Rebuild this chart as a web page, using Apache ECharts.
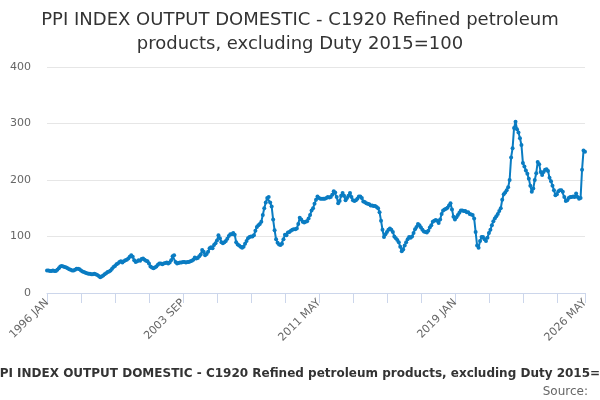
<!DOCTYPE html>
<html>
<head>
<meta charset="utf-8">
<script src="https://cdn.jsdelivr.net/npm/echarts@6/dist/echarts.min.js"></script>
<style>html,body{margin:0;padding:0;background:#fff}#c{width:600px;height:400px}</style>
</head>
<body>
<div id="c"></div>
<script>
var titleText = 'PPI INDEX OUTPUT DOMESTIC - C1920 Refined petroleum products, excluding Duty 2015=100';
var monthNames = ['JAN','FEB','MAR','APR','MAY','JUN','JUL','AUG','SEP','OCT','NOV','DEC'];
var startYear = 1996;
var yTicks = [0, 100, 200, 300, 400];

var v1996 = [40,40,39,39,40,39,39,41,44,47,48,47];
var v1997 = [46,45,44,42,41,40,40,41,43,43,42,40];
var v1998 = [38,37,36,35,34,34,33,33,34,33,32,30];
var v1999 = [28,29,31,33,35,37,38,40,43,46,48,51];
var v2000 = [52,55,56,54,56,58,59,61,64,67,64,58];
var v2001 = [55,56,58,57,60,61,59,57,56,52,47,45];
var v2002 = [44,45,47,50,52,52,51,52,53,54,52,54];
var v2003 = [58,65,67,55,52,53,54,54,55,55,54,55];
var v2004 = [55,56,57,59,63,61,62,65,68,76,73,67];
var v2005 = [69,73,79,81,79,85,88,93,102,97,90,88];
var v2006 = [90,92,96,101,104,104,106,103,90,86,84,82];
var v2007 = [80,82,87,92,97,99,100,100,102,110,117,120];
var v2008 = [122,126,138,150,160,168,170,160,153,130,111,95];
var v2009 = [89,86,85,87,95,103,102,107,108,110,112,113];
var v2010 = [113,114,122,133,130,126,125,126,127,132,138,146];
var v2011 = [150,158,165,171,168,167,167,167,167,168,170,169];
var v2012 = [170,174,180,178,170,159,163,172,177,172,164,168];
var v2013 = [172,177,170,164,163,164,167,171,171,168,162,161];
var v2014 = [159,158,157,155,155,154,154,152,150,143,128,112];
var v2015 = [99,104,108,112,114,112,108,100,97,94,90,82];
var v2016 = [74,77,84,90,95,99,98,100,106,113,117,122];
var v2017 = [120,116,112,109,108,107,110,116,120,126,128,129];
var v2018 = [128,124,130,140,146,148,149,151,155,159,148,135];
var v2019 = [130,134,138,142,146,146,145,145,143,143,140,139];
var v2020 = [138,132,108,84,80,92,99,99,95,92,98,106];
var v2021 = [112,120,127,132,136,140,145,150,165,175,178,182];
var v2022 = [187,200,240,256,292,303,290,284,274,262,230,224];
var v2023 = [217,211,202,190,179,185,200,212,232,228,214,209];
var v2024 = [214,218,219,216,204,198,190,182,173,175,180,182];
var v2025 = [182,179,170,163,164,168,170,170,171,170,176,170];
var v2026 = [167,168,218,252,250];

var yearly = [v1996,v1997,v1998,v1999,v2000,v2001,v2002,v2003,v2004,v2005,v2006,v2007,v2008,v2009,v2010,v2011,v2012,v2013,v2014,v2015,v2016,v2017,v2018,v2019,v2020,v2021,v2022,v2023,v2024,v2025,v2026];

var categories = [];
var values = [];
yearly.forEach(function (arr, yi) {
  arr.forEach(function (val, mi) {
    categories.push((startYear + yi) + ' ' + monthNames[mi]);
    values.push(val);
  });
});
var lastIdx = categories.length - 1;

var chart = echarts.init(document.getElementById('c'), null, {renderer: 'canvas'});
chart.setOption({
  animation: false,
  title: {
    text: 'PPI INDEX OUTPUT DOMESTIC - C1920 Refined petroleum\nproducts, excluding Duty 2015=100',
    left: 'center',
    top: 3,
    textStyle: {fontFamily: 'DejaVu Sans', fontSize: 18, fontWeight: 'normal', color: '#333333', lineHeight: 24}
  },
  grid: {left: 47, right: 15, top: 67, bottom: 107, containLabel: false},
  xAxis: {
    type: 'category',
    data: categories,
    boundaryGap: false,
    axisLine: {lineStyle: {color: '#ccd6eb', width: 1}},
    axisTick: {
      length: 10,
      lineStyle: {color: '#ccd6eb'},
      interval: function (i) { return i % 23 === 0 || i === lastIdx; }
    },
    axisLabel: {
      rotate: 45,
      color: '#666666',
      fontFamily: 'DejaVu Sans',
      fontSize: 11,
      margin: 8,
      interval: function (i) { return i % 92 === 0 || i === lastIdx; }
    },
    splitLine: {show: false}
  },
  yAxis: {
    type: 'value',
    min: yTicks[0],
    max: yTicks[yTicks.length - 1],
    interval: 100,
    axisLine: {show: false},
    axisTick: {show: false},
    axisLabel: {color: '#666666', fontFamily: 'DejaVu Sans', fontSize: 11, margin: 16},
    splitLine: {lineStyle: {color: '#e6e6e6', width: 1}}
  },
  graphic: [
    {type: 'text', x: 308, y: 374, style: {text: titleText, font: 'bold 12px "DejaVu Sans"', fill: '#333333', textAlign: 'center', textVerticalAlign: 'middle'}},
    {type: 'text', x: 588, y: 392, style: {text: 'Source:', font: '12px "DejaVu Sans"', fill: '#666666', textAlign: 'right', textVerticalAlign: 'middle'}}
  ],
  series: [{
    type: 'line',
    data: values,
    symbol: 'circle',
    symbolSize: 4,
    showAllSymbol: true,
    lineStyle: {color: '#0a7cc2', width: 2},
    itemStyle: {color: '#0a7cc2'}
  }]
});
</script>
</body>
</html>
